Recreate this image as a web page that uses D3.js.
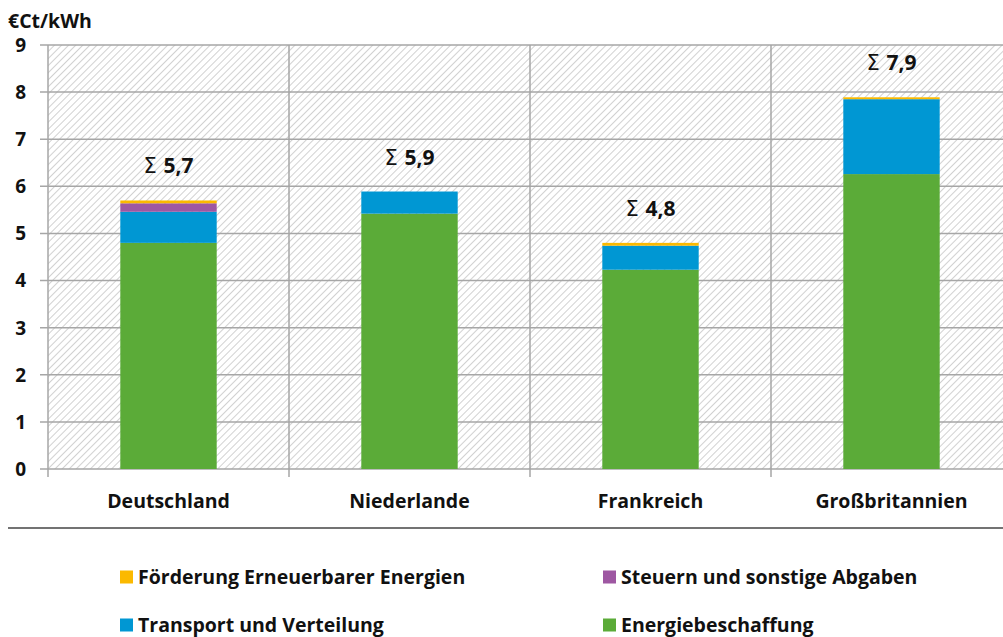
<!DOCTYPE html>
<html>
<head>
<meta charset="utf-8">
<script src="https://cdn.jsdelivr.net/npm/d3@7"></script>
<style>
  body { margin: 0; background: #fff; }
  svg { display: block; font-family: "Open Sans", sans-serif; font-weight: bold; }
</style>
</head>
<body>
<svg id="chart"></svg>
<script>
// Data
var countries = ['Deutschland', 'Niederlande', 'Frankreich', 'Großbritannien'];
var energiebeschaffung = [4.80, 5.42, 4.23, 6.26];
var transport = [0.66, 0.47, 0.51, 1.59];
var steuern = [0.18, 0, 0, 0];
var foerderung = [0.06, 0, 0.06, 0.04];
var sumLabels = ['5,7', '5,9', '4,8', '7,9'];
var seriesNames = ['Energiebeschaffung', 'Transport und Verteilung', 'Steuern und sonstige Abgaben', 'Förderung Erneuerbarer Energien'];
var seriesColors = ['#5bab38', '#0097d3', '#9e57a2', '#fbb900'];
var yTicks = [0, 1, 2, 3, 4, 5, 6, 7, 8, 9];

var width = 1003, height = 637;
var svg = d3.select('#chart').attr('width', width).attr('height', height);

// hatch pattern for the plot background
var defs = svg.append('defs');
var pat = defs.append('pattern')
    .attr('id', 'hatch')
    .attr('patternUnits', 'userSpaceOnUse')
    .attr('width', 5).attr('height', 5)
    .attr('patternTransform', 'rotate(45)');
pat.append('rect').attr('width', 5).attr('height', 5).attr('fill', '#fff');
pat.append('line')
    .attr('x1', 0).attr('y1', 0).attr('x2', 0).attr('y2', 5)
    .attr('stroke', '#c6c6c6').attr('stroke-width', 1.6);

var plotLeft = 48, plotRight = 1012, plotTop = 45, plotBottom = 469;

var x = d3.scaleBand().domain(countries).range([plotLeft, plotRight]).padding(0);
var y = d3.scaleLinear().domain([0, 9]).range([plotBottom, plotTop]);

// rows for stacking
var rows = countries.map(function(c, i) {
    return {
        country: c,
        'Energiebeschaffung': energiebeschaffung[i],
        'Transport und Verteilung': transport[i],
        'Steuern und sonstige Abgaben': steuern[i],
        'Förderung Erneuerbarer Energien': foerderung[i]
    };
});
var stacked = d3.stack().keys(seriesNames)(rows);

// background
svg.append('rect')
    .attr('x', plotLeft).attr('y', plotTop)
    .attr('width', plotRight - plotLeft).attr('height', plotBottom - plotTop)
    .attr('fill', 'url(#hatch)');

// horizontal gridlines
svg.append('g').selectAll('line')
    .data(yTicks)
    .enter().append('line')
    .attr('x1', plotLeft - 8).attr('x2', plotRight)
    .attr('y1', function(d) { return y(d); })
    .attr('y2', function(d) { return y(d); })
    .attr('stroke', '#a6a6a6').attr('stroke-width', 1.5);

// vertical category separators
var seps = countries.map(function(c) { return x(c); }).concat([plotRight]);
svg.append('g').selectAll('line')
    .data(seps)
    .enter().append('line')
    .attr('x1', function(d) { return d; }).attr('x2', function(d) { return d; })
    .attr('y1', plotTop).attr('y2', plotBottom + 8)
    .attr('stroke', '#a6a6a6').attr('stroke-width', 1.5);

// bars
var barW = x.bandwidth() * 0.4;
svg.append('g').selectAll('g')
    .data(stacked)
    .enter().append('g')
    .attr('fill', function(d, i) { return seriesColors[i]; })
    .selectAll('rect')
    .data(function(d) { return d; })
    .enter().append('rect')
    .attr('x', function(d) { return x(d.data.country) + (x.bandwidth() - barW) / 2; })
    .attr('width', barW)
    .attr('y', function(d) { return y(d[1]); })
    .attr('height', function(d) { return y(d[0]) - y(d[1]); });

// sum labels (Σ in lighter weight)
var sums = svg.append('g').selectAll('text')
    .data(countries)
    .enter().append('text')
    .attr('x', function(d) { return x(d) + x.bandwidth() / 2; })
    .attr('y', function(d, i) {
        var total = energiebeschaffung[i] + transport[i] + steuern[i] + foerderung[i];
        return y(total) - 27;
    })
    .attr('text-anchor', 'middle')
    .attr('font-size', 21)
    .attr('fill', '#111');
sums.append('tspan')
    .attr('font-weight', 'normal')
    .attr('font-family', '"DejaVu Sans", sans-serif')
    .text('Σ ');
sums.append('tspan')
    .text(function(d, i) { return sumLabels[i]; });

// y tick labels
svg.append('g').selectAll('text')
    .data(yTicks)
    .enter().append('text')
    .attr('x', 26)
    .attr('y', function(d) { return y(d); })
    .attr('dy', '0.36em')
    .attr('text-anchor', 'end')
    .attr('font-size', 19)
    .attr('fill', '#111')
    .text(function(d) { return d; });

// unit label
svg.append('text')
    .attr('x', 8).attr('y', 28)
    .attr('font-size', 19.5)
    .attr('fill', '#111')
    .text('€Ct/kWh');

// category labels
svg.append('g').selectAll('text')
    .data(countries)
    .enter().append('text')
    .attr('x', function(d) { return x(d) + x.bandwidth() / 2; })
    .attr('y', 508)
    .attr('text-anchor', 'middle')
    .attr('font-size', 19.5)
    .attr('fill', '#111')
    .text(function(d) { return d; });

// separator line under categories
svg.append('line')
    .attr('x1', 8).attr('x2', width)
    .attr('y1', 528).attr('y2', 528)
    .attr('stroke', '#444').attr('stroke-width', 1.5);

// legend
var legendItems = [
    { name: seriesNames[3], color: seriesColors[3], x: 120, y: 577 },
    { name: seriesNames[2], color: seriesColors[2], x: 603, y: 577 },
    { name: seriesNames[1], color: seriesColors[1], x: 120, y: 625 },
    { name: seriesNames[0], color: seriesColors[0], x: 603, y: 625 }
];
var legend = svg.append('g').selectAll('g')
    .data(legendItems)
    .enter().append('g')
    .attr('transform', function(d) { return 'translate(' + d.x + ',' + d.y + ')'; });
legend.append('rect')
    .attr('x', 0).attr('y', -6.5)
    .attr('width', 13).attr('height', 13)
    .attr('fill', function(d) { return d.color; });
legend.append('text')
    .attr('x', 18).attr('y', 0)
    .attr('dy', '0.36em')
    .attr('font-size', 19.5)
    .attr('fill', '#111')
    .text(function(d) { return d.name; });
</script>
</body>
</html>
